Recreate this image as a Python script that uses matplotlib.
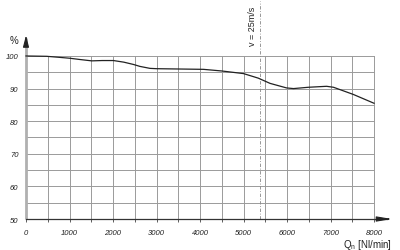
import matplotlib
matplotlib.use("Agg")
import matplotlib.pyplot as plt

plt.rcParams['font.family'] = ['Liberation Sans', 'DejaVu Sans']

flow = [0, 475, 750, 1010, 1250, 1510, 1750, 2010, 2250, 2470, 2620, 2850, 3000,
        3540, 4080, 4500, 5000, 5340, 5610, 5990, 6150, 6490, 6910, 7070, 7525, 8000]
eff = [100.0, 99.9, 99.6, 99.3, 98.9, 98.5, 98.6, 98.6, 98.1, 97.4, 96.8, 96.2, 96.1,
       96.0, 95.9, 95.4, 94.6, 93.2, 91.6, 90.2, 90.0, 90.4, 90.7, 90.4, 88.2, 85.5]
x_ticks = [0, 1000, 2000, 3000, 4000, 5000, 6000, 7000, 8000]
y_ticks = [50, 60, 70, 80, 90, 100]
v_limit = 5370

fig = plt.figure(figsize=(4.0, 2.51), dpi=100)
ax = fig.add_axes([0.065, 0.1235, 0.87, 0.6495])
ax.set_xlim(0, 8000)
ax.set_ylim(50, 100)

gc = '#9a9a9a'
for xv in range(500, 8001, 500):
    ax.axvline(xv, color=gc, lw=0.7, zorder=1, clip_on=False)
for yv in range(55, 101, 5):
    ax.axhline(yv, color=gc, lw=0.7, zorder=1, clip_on=False)

for s in ax.spines.values():
    s.set_visible(False)

ax.set_xticks(x_ticks)
ax.set_xticks(range(500, 8001, 1000), minor=True)
ax.set_yticks(y_ticks)
ax.tick_params(axis='x', which='both', length=2, width=0.6, color='#444444', pad=5,
               labelsize=5.5)
ax.tick_params(axis='y', length=0, pad=5.5, labelsize=5.5)
for lab in ax.get_xticklabels() + ax.get_yticklabels():
    lab.set_fontstyle('italic')
    lab.set_color('#222222')

# dashed velocity line
ax.plot([v_limit, v_limit], [50, 117], color='#888888', lw=0.6,
        ls=(0, (4, 2, 1, 2)), clip_on=False, zorder=2)
ax.text(v_limit - 160, 103.4, 'v = 25m/s', rotation=90, ha='center', va='bottom',
        fontsize=6.5, color='#222222')

# axes lines with arrows
ax.plot([0, 0], [50, 105.5], color='#b0b0b0', lw=2.0, clip_on=False, zorder=3,
        solid_capstyle='butt')
ax.annotate('', xy=(0, 107.2), xytext=(0, 103.5),
            arrowprops=dict(arrowstyle='-|>,head_length=0.7,head_width=0.18',
                            color='#222222', lw=0.8), annotation_clip=False)
ax.plot([0, 8300], [50, 50], color='#333333', lw=0.9, clip_on=False, zorder=3)
ax.annotate('', xy=(8480, 50), xytext=(8200, 50),
            arrowprops=dict(arrowstyle='-|>,head_length=0.9,head_width=0.15',
                            color='#222222', lw=0.8), annotation_clip=False)

ax.text(-270, 104.8, '%', ha='center', va='center', fontsize=7, color='#222222')
ax.text(8420, 42.2, r'Q$_\mathregular{n}$ [Nl/min]', ha='right', va='center', fontsize=7,
        color='#222222')

ax.plot(flow, eff, color='#222222', lw=0.9, zorder=4, clip_on=False)

fig.savefig('out.png', dpi=100)
